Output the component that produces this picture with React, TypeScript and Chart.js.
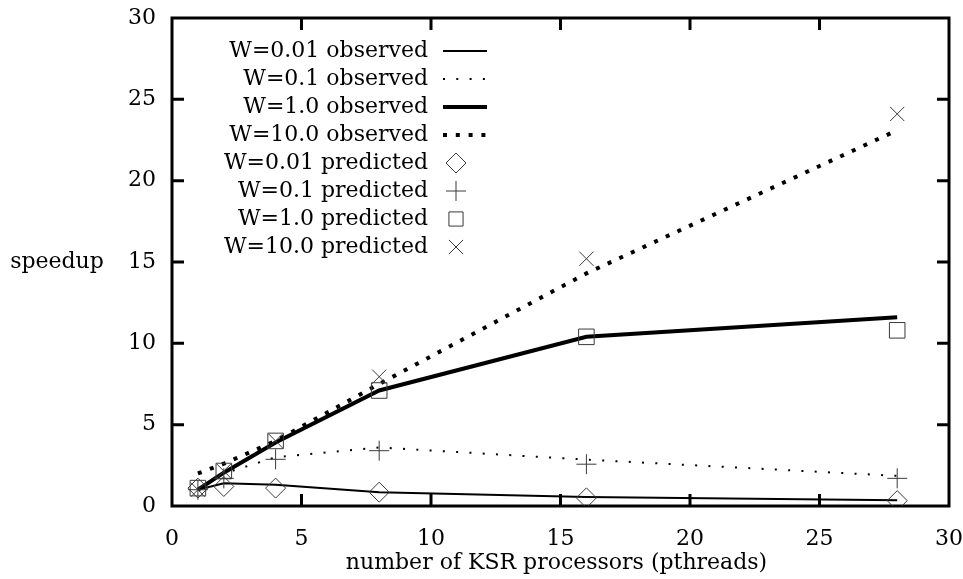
import React, { useEffect, useRef } from "react";
import { Chart, registerables } from "chart.js";

Chart.register(...registerables);

// Processor counts on the x axis
const processors = [1, 2, 4, 8, 16, 28];

// Observed speedup per workload W
const observedW001 = [1.0, 1.4, 1.3, 0.85, 0.55, 0.35];
const observedW01 = [1.0, 2.0, 3.0, 3.6, 2.85, 1.85];
const observedW1 = [1.0, 2.05, 3.9, 7.1, 10.4, 11.6];
const observedW10 = [2.0, 2.6, 4.0, 7.5, 14.3, 23.1];

// Predicted speedup per workload W
const predictedW001 = [1.1, 1.2, 1.1, 0.85, 0.5, 0.33];
const predictedW01 = [1.0, 1.7, 2.87, 3.4, 2.57, 1.7];
const predictedW1 = [1.1, 2.15, 4.0, 7.1, 10.4, 10.8];
const predictedW10 = [1.0, 2.15, 4.0, 7.95, 15.2, 24.1];

const legendLabels = [
  "W=0.01 observed",
  "W=0.1 observed",
  "W=1.0 observed",
  "W=10.0 observed",
  "W=0.01 predicted",
  "W=0.1 predicted",
  "W=1.0 predicted",
  "W=10.0 predicted",
];

const xAxisTitle = "number of KSR processors (pthreads)";
const yAxisTitle = "speedup";

const FONT = "'DejaVu Serif', serif";
const FONT_SIZE = 22;
const MARKER_COLOR = "#3a3a3a";

const toPoints = (ys: number[]) => processors.map((x, i) => ({ x, y: ys[i] }));

type LineStyle = { width: number; dash: number[] };
const lineStyles: LineStyle[] = [
  { width: 2, dash: [] },
  { width: 2, dash: [2, 11.3] },
  { width: 4, dash: [] },
  { width: 4, dash: [4, 8.8] },
];

function drawMarker(ctx: CanvasRenderingContext2D, kind: string, x: number, y: number, r: number) {
  ctx.save();
  ctx.strokeStyle = MARKER_COLOR;
  ctx.lineWidth = 1;
  ctx.setLineDash([]);
  ctx.beginPath();
  if (kind === "rectRot") {
    ctx.moveTo(x - r, y);
    ctx.lineTo(x, y - r);
    ctx.lineTo(x + r, y);
    ctx.lineTo(x, y + r);
    ctx.closePath();
  } else if (kind === "cross") {
    ctx.moveTo(x, y - r);
    ctx.lineTo(x, y + r);
    ctx.moveTo(x - r, y);
    ctx.lineTo(x + r, y);
  } else if (kind === "rect") {
    const s = r * Math.SQRT1_2;
    ctx.rect(x - s, y - s, 2 * s, 2 * s);
  } else {
    const s = r * Math.SQRT1_2;
    ctx.moveTo(x - s, y - s);
    ctx.lineTo(x + s, y + s);
    ctx.moveTo(x + s, y - s);
    ctx.lineTo(x - s, y + s);
  }
  ctx.stroke();
  ctx.restore();
}

const markerKinds = ["rectRot", "cross", "rect", "crossRot"];
const markerRadii = [10, 10, 11, 10];
const legendMarkerRadii = [10, 10, 10, 10];

const framePlugin = {
  id: "gnuplotFrame",
  beforeDatasetsDraw(chart: any) {
    const { ctx, chartArea } = chart;
    const { left, right, top, bottom } = chartArea;
    const xs = chart.scales.x;
    const ys = chart.scales.y;
    ctx.save();
    ctx.strokeStyle = "#000";
    ctx.lineWidth = 3;
    ctx.setLineDash([]);
    ctx.strokeRect(left, top, right - left, bottom - top);
    const tick = 12;
    ctx.beginPath();
    for (let v = 5; v < 30; v += 5) {
      const px = xs.getPixelForValue(v);
      ctx.moveTo(px, bottom);
      ctx.lineTo(px, bottom - tick);
      ctx.moveTo(px, top);
      ctx.lineTo(px, top + tick);
      const py = ys.getPixelForValue(v);
      ctx.moveTo(left, py);
      ctx.lineTo(left + tick, py);
      ctx.moveTo(right, py);
      ctx.lineTo(right - tick, py);
    }
    ctx.stroke();
    ctx.restore();
  },
  afterDraw(chart: any) {
    const { ctx, chartArea } = chart;
    ctx.save();
    ctx.fillStyle = "#000";
    ctx.font = `${FONT_SIZE}px ${FONT}`;
    ctx.textBaseline = "middle";

    // axis titles
    ctx.textAlign = "center";
    ctx.fillText(xAxisTitle, (chartArea.left + chartArea.right) / 2 - 4, 563);
    ctx.fillText(yAxisTitle, 57, 262);

    // key, text on the left and sample on the right
    const textRight = 428;
    const sampleL = 443;
    const sampleR = 487;
    const markerX = 456;
    legendLabels.forEach((label, i) => {
      const y = 51 + 28 * i;
      ctx.textAlign = "right";
      ctx.fillStyle = "#000";
      ctx.fillText(label, textRight, y);
      if (i < 4) {
        const st = lineStyles[i];
        ctx.save();
        ctx.strokeStyle = "#000";
        ctx.lineWidth = st.width;
        ctx.lineCap = "butt";
        ctx.setLineDash(st.dash);
        ctx.beginPath();
        ctx.moveTo(sampleL, y);
        ctx.lineTo(sampleR, y);
        ctx.stroke();
        ctx.restore();
      } else {
        drawMarker(ctx, markerKinds[i - 4], markerX, y, legendMarkerRadii[i - 4]);
      }
    });
    ctx.restore();
  },
};

// keep the plot frame where the layout padding puts it, ignoring label overhang
const noOverhang = (scale: any) => {
  scale.paddingTop = 0;
  scale.paddingBottom = 0;
  scale.paddingLeft = 0;
  scale.paddingRight = 0;
};

export default function App() {
  const canvasRef = useRef<HTMLCanvasElement | null>(null);

  useEffect(() => {
    document.body.style.margin = "0";
    const canvas = canvasRef.current;
    if (!canvas) return;

    const observed = [observedW001, observedW01, observedW1, observedW10];
    const predicted = [predictedW001, predictedW01, predictedW1, predictedW10];

    const lineSets = observed.map((ys, i) => ({
      type: "line" as const,
      label: legendLabels[i],
      data: toPoints(ys),
      borderColor: "#000",
      borderWidth: lineStyles[i].width,
      borderDash: lineStyles[i].dash,
      borderCapStyle: "butt" as const,
      pointRadius: 0,
      tension: 0,
      fill: false,
      order: 2,
    }));

    const pointSets = predicted.map((ys, i) => ({
      type: "scatter" as const,
      label: legendLabels[i + 4],
      data: toPoints(ys),
      showLine: false,
      pointStyle: markerKinds[i] as any,
      pointRadius: markerRadii[i],
      pointBorderColor: MARKER_COLOR,
      pointBackgroundColor: "rgba(0,0,0,0)",
      pointBorderWidth: 1,
      order: 1,
    }));

    const tickFont = { family: FONT, size: FONT_SIZE };

    const chart = new Chart(canvas, {
      type: "scatter",
      data: { datasets: [...lineSets, ...pointSets] as any },
      options: {
        animation: false,
        responsive: false,
        devicePixelRatio: 1,
        layout: { padding: { left: 0, top: 18, right: 14, bottom: 0 } },
        plugins: {
          legend: { display: false },
          tooltip: { enabled: false },
        },
        scales: {
          x: {
            type: "linear",
            min: 0,
            max: 30,
            grid: { display: false, drawTicks: false },
            border: { display: false },
            ticks: { stepSize: 5, color: "#000", font: tickFont, padding: 20, maxRotation: 0 },
            afterFit: (scale: any) => {
              scale.height = 73;
              noOverhang(scale);
            },
          },
          y: {
            type: "linear",
            min: 0,
            max: 30,
            grid: { display: false, drawTicks: false },
            border: { display: false },
            ticks: { stepSize: 5, color: "#000", font: tickFont, padding: 16 },
            afterFit: (scale: any) => {
              scale.width = 172;
              noOverhang(scale);
            },
          },
        },
      } as any,
      plugins: [framePlugin],
    });

    return () => chart.destroy();
  }, []);

  return (
    <div style={{ position: "relative", width: 963, height: 579, background: "#fff" }}>
      <canvas ref={canvasRef} width={963} height={579} />
    </div>
  );
}
